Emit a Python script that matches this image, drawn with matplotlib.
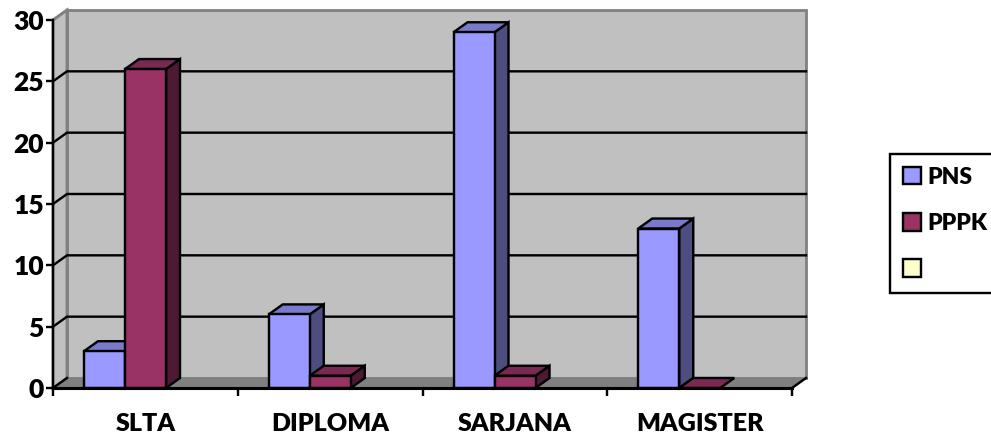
import matplotlib
matplotlib.use("Agg")
import matplotlib.pyplot as plt
from matplotlib.patches import Polygon, Patch

categories = ["SLTA", "DIPLOMA", "SARJANA", "MAGISTER"]
pns = [3, 6, 29, 13]
pppk = [26, 1, 1, 0]
y_ticks = [0, 5, 10, 15, 20, 25, 30]

W, H = 991, 434
plt.rcParams['font.family'] = ['Lato', 'DejaVu Sans']
plt.rcParams['font.weight'] = 'heavy'

fig = plt.figure(figsize=(W / 100, H / 100), dpi=100)
L, R, T, B = 53, 792, 20, 388
ax = fig.add_axes([L / W, 1 - B / H, (R - L) / W, (B - T) / H])
ax.set_xlim(0, 4)
ax.set_ylim(0, 30)
for s in ax.spines.values():
    s.set_visible(False)
ax.patch.set_visible(False)

DX = 14 / ((R - L) / 4)
DY = 10 / ((B - T) / 30)
BW = 41 / ((R - L) / 4)
LW = 2.4 * 0.72
EDGE = 'black'
GREY = '#808080'
WALL = '#C0C0C0'

def poly(pts, fc, ec, lw, z):
    ax.add_patch(Polygon(pts, closed=True, facecolor=fc, edgecolor=ec,
                         linewidth=lw, zorder=z, clip_on=False, joinstyle='miter'))

# back wall, side wall, floor
poly([(DX, DY), (4 + DX, DY), (4 + DX, 30 + DY), (DX, 30 + DY)], WALL, GREY, 2, 1)
poly([(0, 0), (DX, DY), (DX, 30 + DY), (0, 30)], WALL, GREY, 2, 1)
poly([(0, 0), (4, 0), (4 + DX, DY), (DX, DY)], GREY, GREY, 1, 1)

# gridlines
for v in y_ticks[1:-1]:
    ax.plot([0, DX, 4 + DX], [v, v + DY, v + DY], color='black', lw=LW, zorder=2,
            clip_on=False, solid_joinstyle='miter')
ax.plot([0, DX], [30, 30 + DY], color=GREY, lw=LW, zorder=2, clip_on=False)
ax.plot([4, 4 + DX], [0, DY], color='black', lw=LW, zorder=2, clip_on=False)
ax.plot([0, DX], [0, DY], color='black', lw=LW, zorder=2, clip_on=False)

def bar3d(x, v, front, top, side, z):
    if v > 0:
        ax.bar(x, v, width=BW, align='edge', color=front, edgecolor=EDGE,
               linewidth=LW, zorder=z + 0.2, clip_on=False)
        poly([(x + BW, 0), (x + BW + DX, DY), (x + BW + DX, v + DY), (x + BW, v)],
             side, EDGE, LW, z)
    poly([(x, v), (x + BW, v), (x + BW + DX, v + DY), (x + DX, v + DY)],
         top, EDGE, LW, z + 0.1)

OFF = 31 / ((R - L) / 4)
for i in range(len(categories)):
    bar3d(i + OFF, pns[i], '#9999FF', '#7A7ACC', '#4D4D80', 3 + i)
    bar3d(i + OFF + BW, pppk[i], '#993366', '#7A2952', '#4D1933', 3.5 + i)

# axes lines and ticks
ax.plot([0, 0], [0, 30], color='black', lw=LW, zorder=10, clip_on=False)
ax.plot([0, 4], [0, 0], color='black', lw=LW + 0.5, zorder=10, clip_on=False)
ax.set_yticks(y_ticks)
ax.set_xticks([0, 1, 2, 3, 4])
ax.set_xticklabels([])
ax.set_xticks([0.5, 1.5, 2.5, 3.5], labels=categories, minor=True)
ax.tick_params(axis='y', length=5, width=LW, labelsize=19, pad=1.5, direction='out')
ax.tick_params(axis='x', which='major', length=6, width=LW)
ax.tick_params(axis='x', which='minor', length=0, labelsize=18, pad=18)

handles = [Patch(facecolor='#9999FF', edgecolor='black', linewidth=LW),
           Patch(facecolor='#993366', edgecolor='black', linewidth=LW),
           Patch(facecolor='#FFFFCC', edgecolor='black', linewidth=LW)]
leg = fig.legend(handles, ["PNS", "PPPK", ""], loc='upper left',
                 bbox_to_anchor=(890 / W, 1 - 154 / H), bbox_transform=fig.transFigure,
                 frameon=True, fancybox=False, edgecolor='black', framealpha=1,
                 fontsize=16.5, handlelength=0.8, handleheight=0.8, handletextpad=0.27,
                 labelspacing=1.1, borderpad=0.55, borderaxespad=0)
leg.get_frame().set_linewidth(LW)

fig.savefig("out.png", dpi=100, facecolor='white')
